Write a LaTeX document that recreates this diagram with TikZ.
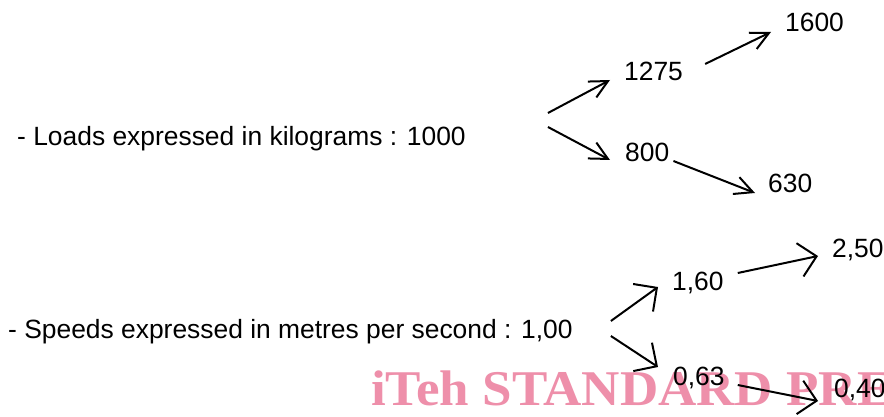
\documentclass[tikz,border=0pt]{standalone}
\usepackage{fontspec}
\setmainfont{Liberation Sans}
\newfontfamily\wmfont{Liberation Serif}
\usetikzlibrary{arrows.meta,calc}
\definecolor{wmpink}{RGB}{238,143,170}
\tikzset{
  lbl/.style={anchor=base west,inner sep=0pt,font=\fontsize{26.4}{30}\selectfont},
  narrowarr/.style={line width=2pt,-{Straight Barb[length=18pt,width=18pt,line width=2pt]}},
  widearr/.style={line width=2pt,-{Straight Barb[length=17pt,width=34pt,line width=2pt]}},
  wmark/.style={anchor=base west,inner sep=0pt,text=wmpink,
    font=\fontsize{50}{56}\wmfont\bfseries}
}
\begin{document}
\begin{tikzpicture}[x=1pt,y=-1pt]
\fill[white] (0,0) rectangle (884,417);
\useasboundingbox (0,0) rectangle (884,417);
\clip (0,0) rectangle (884,417);

% loads
\node[lbl] (loads) at (17,146) {- Loads expressed in kilograms : 1000};
\node[lbl] (n1275) at (624,81) {1275};
\node[lbl] (n800)  at (625,161) {800};
\node[lbl] (n1600) at (785,32) {1600};
\node[lbl] (n630)  at (768,193) {630};

\draw[narrowarr] ($(loads.base east)+(82,-33)$) -- ($(n1275.base west)+(-14,-1)$);
\draw[narrowarr] ($(loads.base east)+(82,-19)$) -- ($(n800.base west)+(-15,-1)$);
\draw[narrowarr] ($(n1275.base east)+(22,-17)$) -- ($(n1600.base west)+(-14,0)$);
\draw[narrowarr] ($(n800.base east)+(4,0)$) -- ($(n630.base west)+(-13,0)$);

% speeds
\node[lbl] (speeds) at (8,338) {- Speeds expressed in metres per second : 1,00};
\node[lbl] (n160) at (672,290) {1,60};
\node[lbl] (n063) at (673,385) {0,63};
\node[lbl] (n250) at (832,257) {2,50};
\node[lbl] (n040) at (834,397) {0,40};

\draw[widearr] ($(speeds.base east)+(38,-17)$) -- ($(n160.base west)+(-14,-3)$);
\draw[widearr] ($(speeds.base east)+(38,-2)$) -- ($(n063.base west)+(-15,-18)$);
\draw[widearr] ($(n160.base east)+(14,-17)$) -- ($(n250.base west)+(-14,-1)$);
\draw[widearr] ($(n063.base east)+(13,0)$) -- ($(n040.base west)+(-16,4)$);

% overprinted banner
\begin{scope}[blend mode=multiply]
\node[wmark] (banner) at (371,405) {\scalebox{1.06}[1]{iTeh STANDARD PREVIEW}};
\end{scope}
\end{tikzpicture}
\end{document}
